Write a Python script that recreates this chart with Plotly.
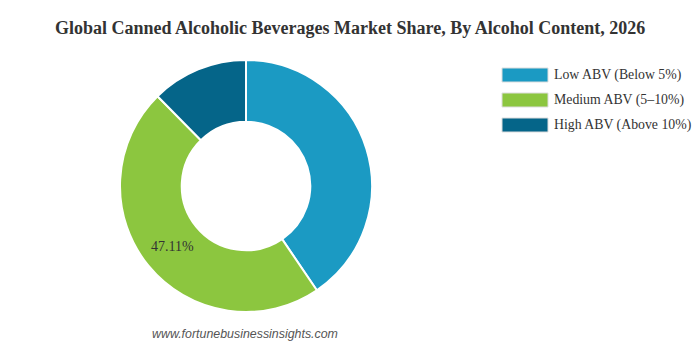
import plotly.graph_objects as go

categories = ["Low ABV (Below 5%)", "Medium ABV (5–10%)", "High ABV (Above 10%)"]
shares = [40.5, 47.11, 12.39]
colors = ["#1b9ac3", "#8cc63f", "#056589"]
show_label = [False, True, False]

W, H = 700, 348
cx, cy, R = 246, 186, 126

texttemplate = ["%{value:.2f}%" if s else "" for s in show_label]

fig = go.Figure(go.Pie(
    labels=categories,
    values=shares,
    hole=0.51,
    sort=False,
    direction="clockwise",
    rotation=0,
    marker=dict(colors=colors, line=dict(color="white", width=2)),
    texttemplate=texttemplate,
    textinfo="text",
    textposition="inside",
    insidetextorientation="horizontal",
    textfont=dict(family="Liberation Serif, Times New Roman, serif", size=14, color="#333333"),
    domain=dict(x=[(cx - R) / W, (cx + R) / W], y=[(H - cy - R) / H, (H - cy + R) / H]),
    showlegend=False,
    hoverinfo="label+percent",
))

# legend drawn manually
sw_x0, sw_x1 = 502, 548
row_y0 = 75
row_gap = 25
for i, (cat, col) in enumerate(zip(categories, colors)):
    yc = row_y0 + i * row_gap
    fig.add_shape(type="rect", xref="paper", yref="paper",
                  x0=sw_x0 / W, x1=sw_x1 / W,
                  y0=1 - (yc + 7) / H, y1=1 - (yc - 7) / H,
                  fillcolor=col, line=dict(color="#dddddd", width=1))
    fig.add_annotation(xref="paper", yref="paper", x=552 / W, y=1 - yc / H,
                       text=cat, showarrow=False, xanchor="left", yanchor="middle",
                       font=dict(family="Liberation Serif, Times New Roman, serif", size=13.8, color="#333333"))

fig.add_annotation(xref="paper", yref="paper", x=350 / W, y=1 - 28 / H,
                   text="<b>Global Canned Alcoholic Beverages Market Share, By Alcohol Content, 2026</b>",
                   showarrow=False, xanchor="center", yanchor="middle",
                   font=dict(family="Liberation Serif, Times New Roman, serif", size=18, color="#333333"))

fig.add_annotation(xref="paper", yref="paper", x=245 / W, y=1 - 334 / H,
                   text="<i>www.fortunebusinessinsights.com</i>",
                   showarrow=False, xanchor="center", yanchor="middle",
                   font=dict(family="Liberation Sans, Arial, sans-serif", size=12.4, color="#555555"))

fig.update_layout(width=W, height=H, margin=dict(l=0, r=0, t=0, b=0),
                  paper_bgcolor="white", plot_bgcolor="white")

fig.write_html("out.html")
